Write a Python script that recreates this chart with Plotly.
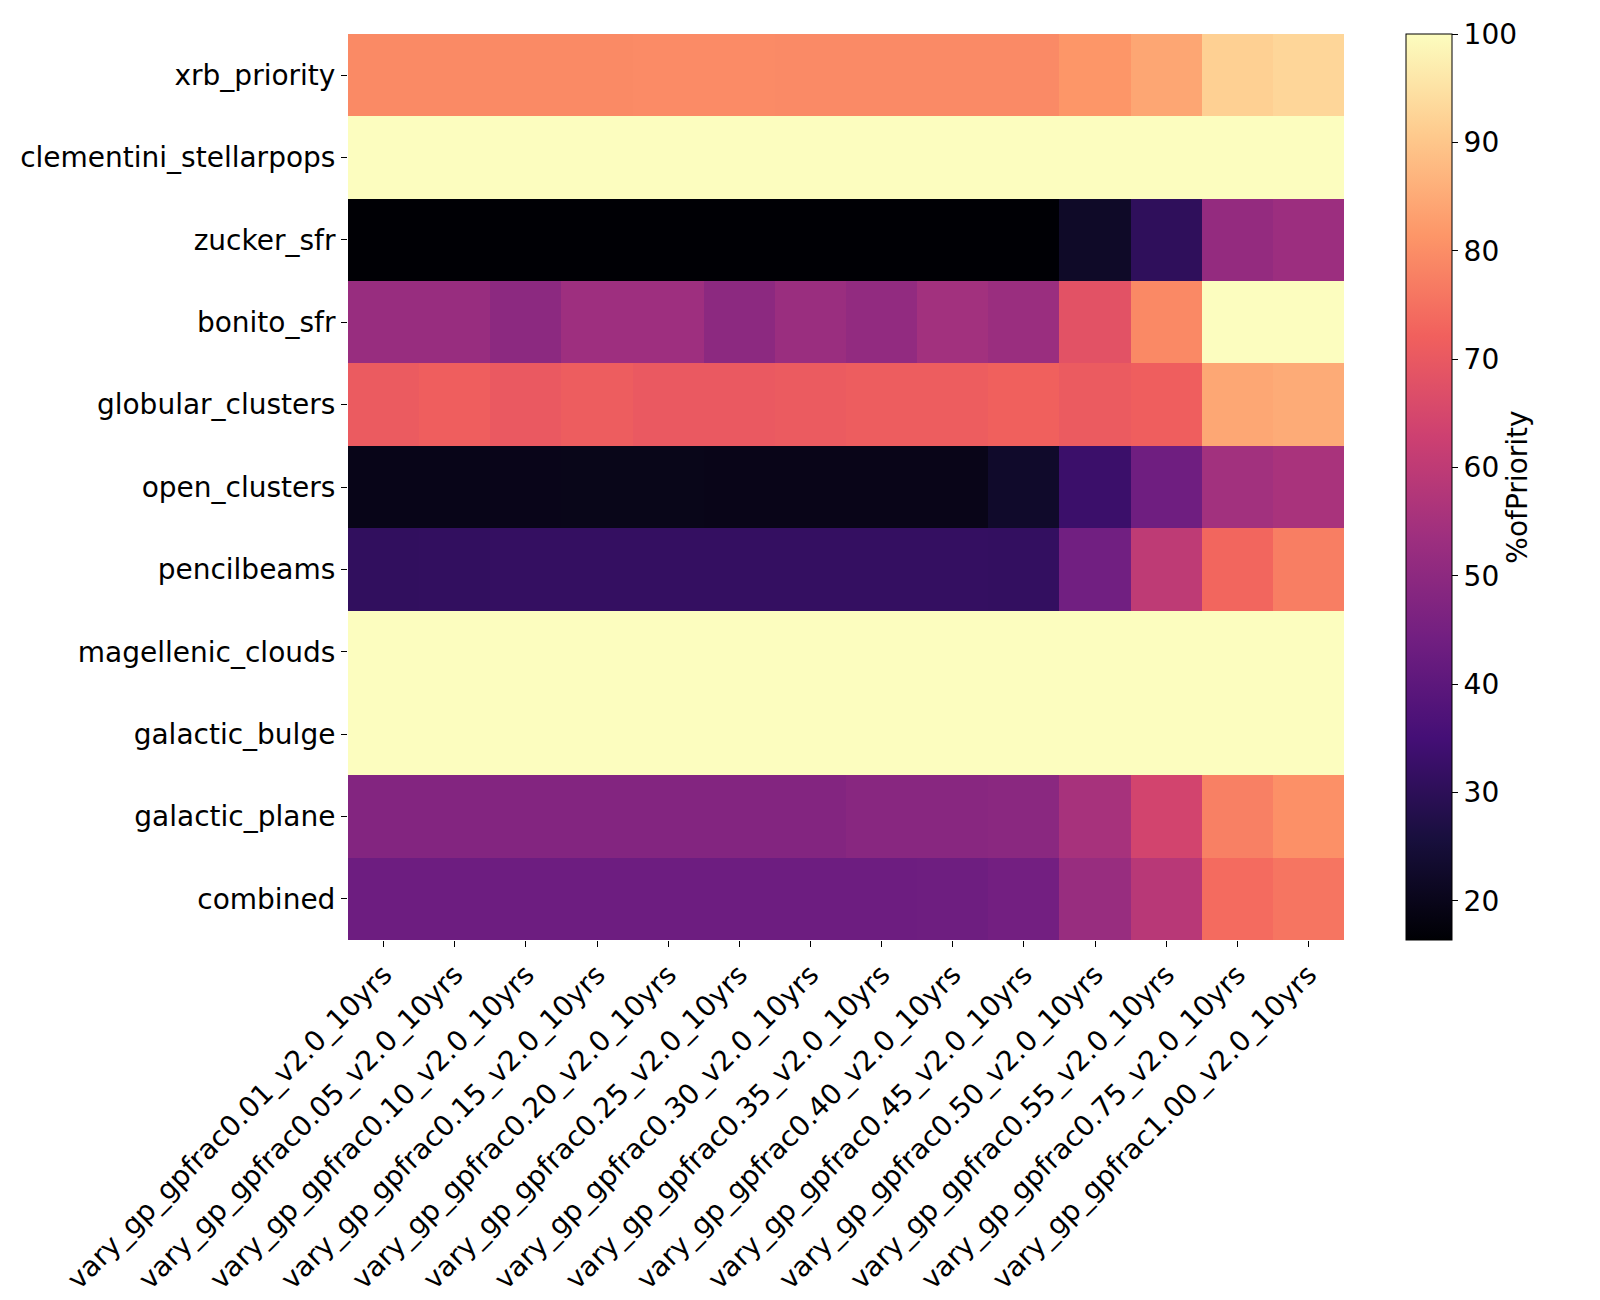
import plotly.graph_objects as go

runs = ["vary_gp_gpfrac0.01_v2.0_10yrs", "vary_gp_gpfrac0.05_v2.0_10yrs",
        "vary_gp_gpfrac0.10_v2.0_10yrs", "vary_gp_gpfrac0.15_v2.0_10yrs",
        "vary_gp_gpfrac0.20_v2.0_10yrs", "vary_gp_gpfrac0.25_v2.0_10yrs",
        "vary_gp_gpfrac0.30_v2.0_10yrs", "vary_gp_gpfrac0.35_v2.0_10yrs",
        "vary_gp_gpfrac0.40_v2.0_10yrs", "vary_gp_gpfrac0.45_v2.0_10yrs",
        "vary_gp_gpfrac0.50_v2.0_10yrs", "vary_gp_gpfrac0.55_v2.0_10yrs",
        "vary_gp_gpfrac0.75_v2.0_10yrs", "vary_gp_gpfrac1.00_v2.0_10yrs"]

science = ["xrb_priority", "clementini_stellarpops", "zucker_sfr", "bonito_sfr",
           "globular_clusters", "open_clusters", "pencilbeams", "magellenic_clouds",
           "galactic_bulge", "galactic_plane", "combined"]

xrb_priority = [79.3, 79.3, 79.3, 79.3, 79.6, 79.6, 79.4, 79.4, 79.4, 79.4, 81.4, 84.3, 91.8, 92.9]
clementini_stellarpops = [100.0] * 14
zucker_sfr = [16.5, 16.5, 16.5, 16.5, 16.5, 16.5, 16.5, 16.5, 16.5, 16.5, 22.3, 30.6, 51.5, 53.2]
bonito_sfr = [52.3, 52.3, 49.8, 53.6, 53.6, 49.8, 52.8, 51.0, 54.4, 52.8, 68.2, 79.1, 100.0, 100.0]
globular_clusters = [70.6, 71.6, 70.2, 71.2, 70.2, 70.2, 70.6, 71.2, 71.2, 72.0, 70.6, 71.6, 84.5, 85.2]
open_clusters = [19.6, 19.6, 19.8, 19.9, 19.9, 19.7, 19.7, 19.7, 19.7, 22.7, 33.1, 43.6, 54.4, 55.7]
pencilbeams = [31.0, 31.2, 31.6, 31.6, 31.6, 31.6, 31.6, 31.6, 31.6, 31.4, 44.0, 59.9, 73.2, 77.3]
magellenic_clouds = [100.0] * 14
galactic_bulge = [100.0] * 14
galactic_plane = [47.8, 47.8, 47.8, 47.8, 47.8, 47.8, 47.8, 49.0, 49.0, 49.4, 55.3, 64.1, 77.7, 80.4]
combined = [43.2, 43.2, 43.2, 43.2, 43.2, 43.2, 43.2, 43.2, 43.5, 44.4, 52.3, 58.6, 74.1, 75.8]

z = [xrb_priority, clementini_stellarpops, zucker_sfr, bonito_sfr, globular_clusters,
     open_clusters, pencilbeams, magellenic_clouds, galactic_bulge, galactic_plane, combined]

FONT = "DejaVu Sans"
FS = 28

fig = go.Figure(go.Heatmap(
    z=z, x=runs, y=science,
    colorscale="Magma", zmin=16.4, zmax=100,
    colorbar=dict(
        title=dict(text="%ofPriority", side="right", font=dict(family=FONT, size=FS, color="black")),
        thickness=46, len=1, lenmode="fraction", x=1.0621, xanchor="left",
        y=0.5, yanchor="middle", xpad=0, ypad=0,
        outlinecolor="black", outlinewidth=1,
        ticks="outside", ticklen=6, tickcolor="black", tickwidth=1.2,
        tickvals=[20, 30, 40, 50, 60, 70, 80, 90, 100],
        tickfont=dict(family=FONT, size=FS, color="black"),
    ),
))

fig.update_layout(
    width=1600, height=1300,
    margin=dict(l=338, r=264, t=26, b=357),
    paper_bgcolor="white", plot_bgcolor="white",
    font=dict(family=FONT, size=FS, color="black"),
)
fig.update_xaxes(tickangle=-45, ticks="outside", ticklen=6, tickcolor="black",
                 tickfont=dict(family=FONT, size=FS, color="black"),
                 showgrid=False, zeroline=False, showline=False)
fig.update_yaxes(autorange="reversed", ticks="outside", ticklen=6, tickcolor="black",
                 tickfont=dict(family=FONT, size=FS, color="black"),
                 showgrid=False, zeroline=False, showline=False)

fig.write_html("out.html")
